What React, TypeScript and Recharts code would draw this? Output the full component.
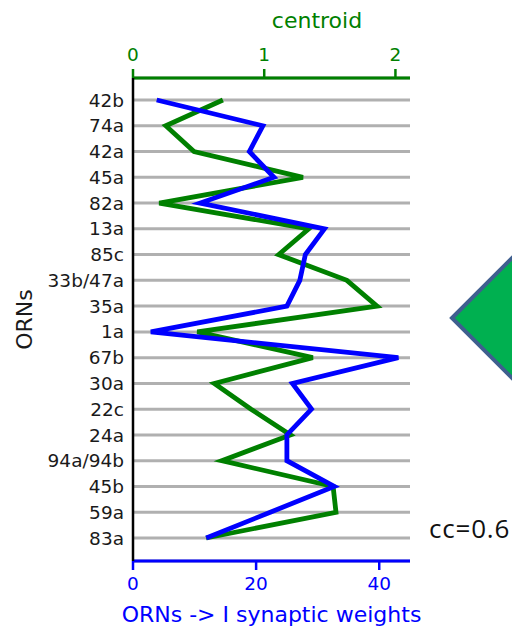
import { LineChart, Line, XAxis, YAxis, CartesianGrid, Label } from "recharts";

const orns = [
  "42b", "74a", "42a", "45a", "82a", "13a", "85c", "33b/47a", "35a",
  "1a", "67b", "30a", "22c", "24a", "94a/94b", "45b", "59a", "83a",
];
const centroid = [
  0.685, 0.25, 0.465, 1.295, 0.2, 1.34, 1.11, 1.63, 1.86,
  0.49, 1.37, 0.62, 0.9, 1.2, 0.677, 1.525, 1.547, 0.557,
];
const weights = [
  3.85, 21.1, 18.9, 22.9, 10.9, 31.1, 28.0, 27.1, 25.0,
  2.9, 43.1, 25.9, 29.0, 25.0, 25.0, 32.7, 22.3, 11.9,
];
const centroidTicks = [0, 1, 2];
const weightTicks = [0, 20, 40];

const data = orns.map((orn, i) => ({ orn, centroid: centroid[i], weight: weights[i] }));

const GREEN = "#008000";
const BLUE = "#0000ff";
const FONT = "DejaVu Sans";

export default function App() {
  return (
    <div style={{ position: "absolute", left: 0, top: 0, width: 512, height: 629, background: "#fff" }}>
      <LineChart
        width={512}
        height={629}
        data={data}
        layout="vertical"
        margin={{ top: 0, right: 102, bottom: 0, left: 0 }}
      >
        <CartesianGrid
          xAxisId="bottom"
          vertical={false}
          stroke="#b0b0b0"
          strokeWidth={3}
        />
        <XAxis
          xAxisId="top"
          orientation="top"
          type="number"
          domain={[0, 2.111]}
          ticks={centroidTicks}
          height={78}
          tickSize={9}
          tickMargin={8}
          axisLine={{ stroke: GREEN, strokeWidth: 3 }}
          tickLine={{ stroke: GREEN, strokeWidth: 2.5 }}
          tick={{ fill: GREEN, fontSize: 18.5, fontFamily: FONT }}
        >
          <Label
            content={() => (
              <text x={317} y={28} textAnchor="middle" fill={GREEN} fontSize={22} fontFamily={FONT}>
                centroid
              </text>
            )}
          />
        </XAxis>
        <XAxis
          xAxisId="bottom"
          orientation="bottom"
          type="number"
          domain={[0, 45]}
          ticks={weightTicks}
          height={68}
          tickSize={9}
          tickMargin={7}
          axisLine={{ stroke: BLUE, strokeWidth: 3 }}
          tickLine={{ stroke: BLUE, strokeWidth: 2.5 }}
          tick={{ fill: BLUE, fontSize: 18.5, fontFamily: FONT }}
        >
          <Label
            content={() => (
              <text x={271.5} y={622} textAnchor="middle" fill={BLUE} fontSize={22} fontFamily={FONT}>
                {"ORNs -> I synaptic weights"}
              </text>
            )}
          />
        </XAxis>
        <YAxis
          type="category"
          dataKey="orn"
          width={133}
          padding={{ top: 22, bottom: 23 }}
          interval={0}
          tickSize={0}
          tickMargin={9}
          tickLine={false}
          axisLine={{ stroke: "#000", strokeWidth: 2.5 }}
          tick={{ fill: "#1a1a1a", fontSize: 18.5, fontFamily: FONT }}
        >
          <Label
            content={() => (
              <text
                x={32}
                y={319.5}
                transform="rotate(-90, 32, 319.5)"
                textAnchor="middle"
                fill="#1a1a1a"
                fontSize={22}
                fontFamily={FONT}
              >
                ORNs
              </text>
            )}
          />
        </YAxis>
        <Line
          xAxisId="top"
          dataKey="centroid"
          stroke={GREEN}
          strokeWidth={4.8}
          dot={false}
          isAnimationActive={false}
        />
        <Line
          xAxisId="bottom"
          dataKey="weight"
          stroke={BLUE}
          strokeWidth={4.8}
          dot={false}
          isAnimationActive={false}
        />
      </LineChart>
      <svg
        width={512}
        height={629}
        style={{ position: "absolute", left: 0, top: 0, pointerEvents: "none" }}
      >
        <polygon
          points="452,318 522,248 592,318 522,388"
          fill="#00b050"
          stroke="#3f5f8f"
          strokeWidth={4}
        />
        <text x={429} y={538} fill="#111" fontSize={26} letterSpacing={0.8} fontFamily="Open Sans">
          cc=0.6
        </text>
      </svg>
    </div>
  );
}
